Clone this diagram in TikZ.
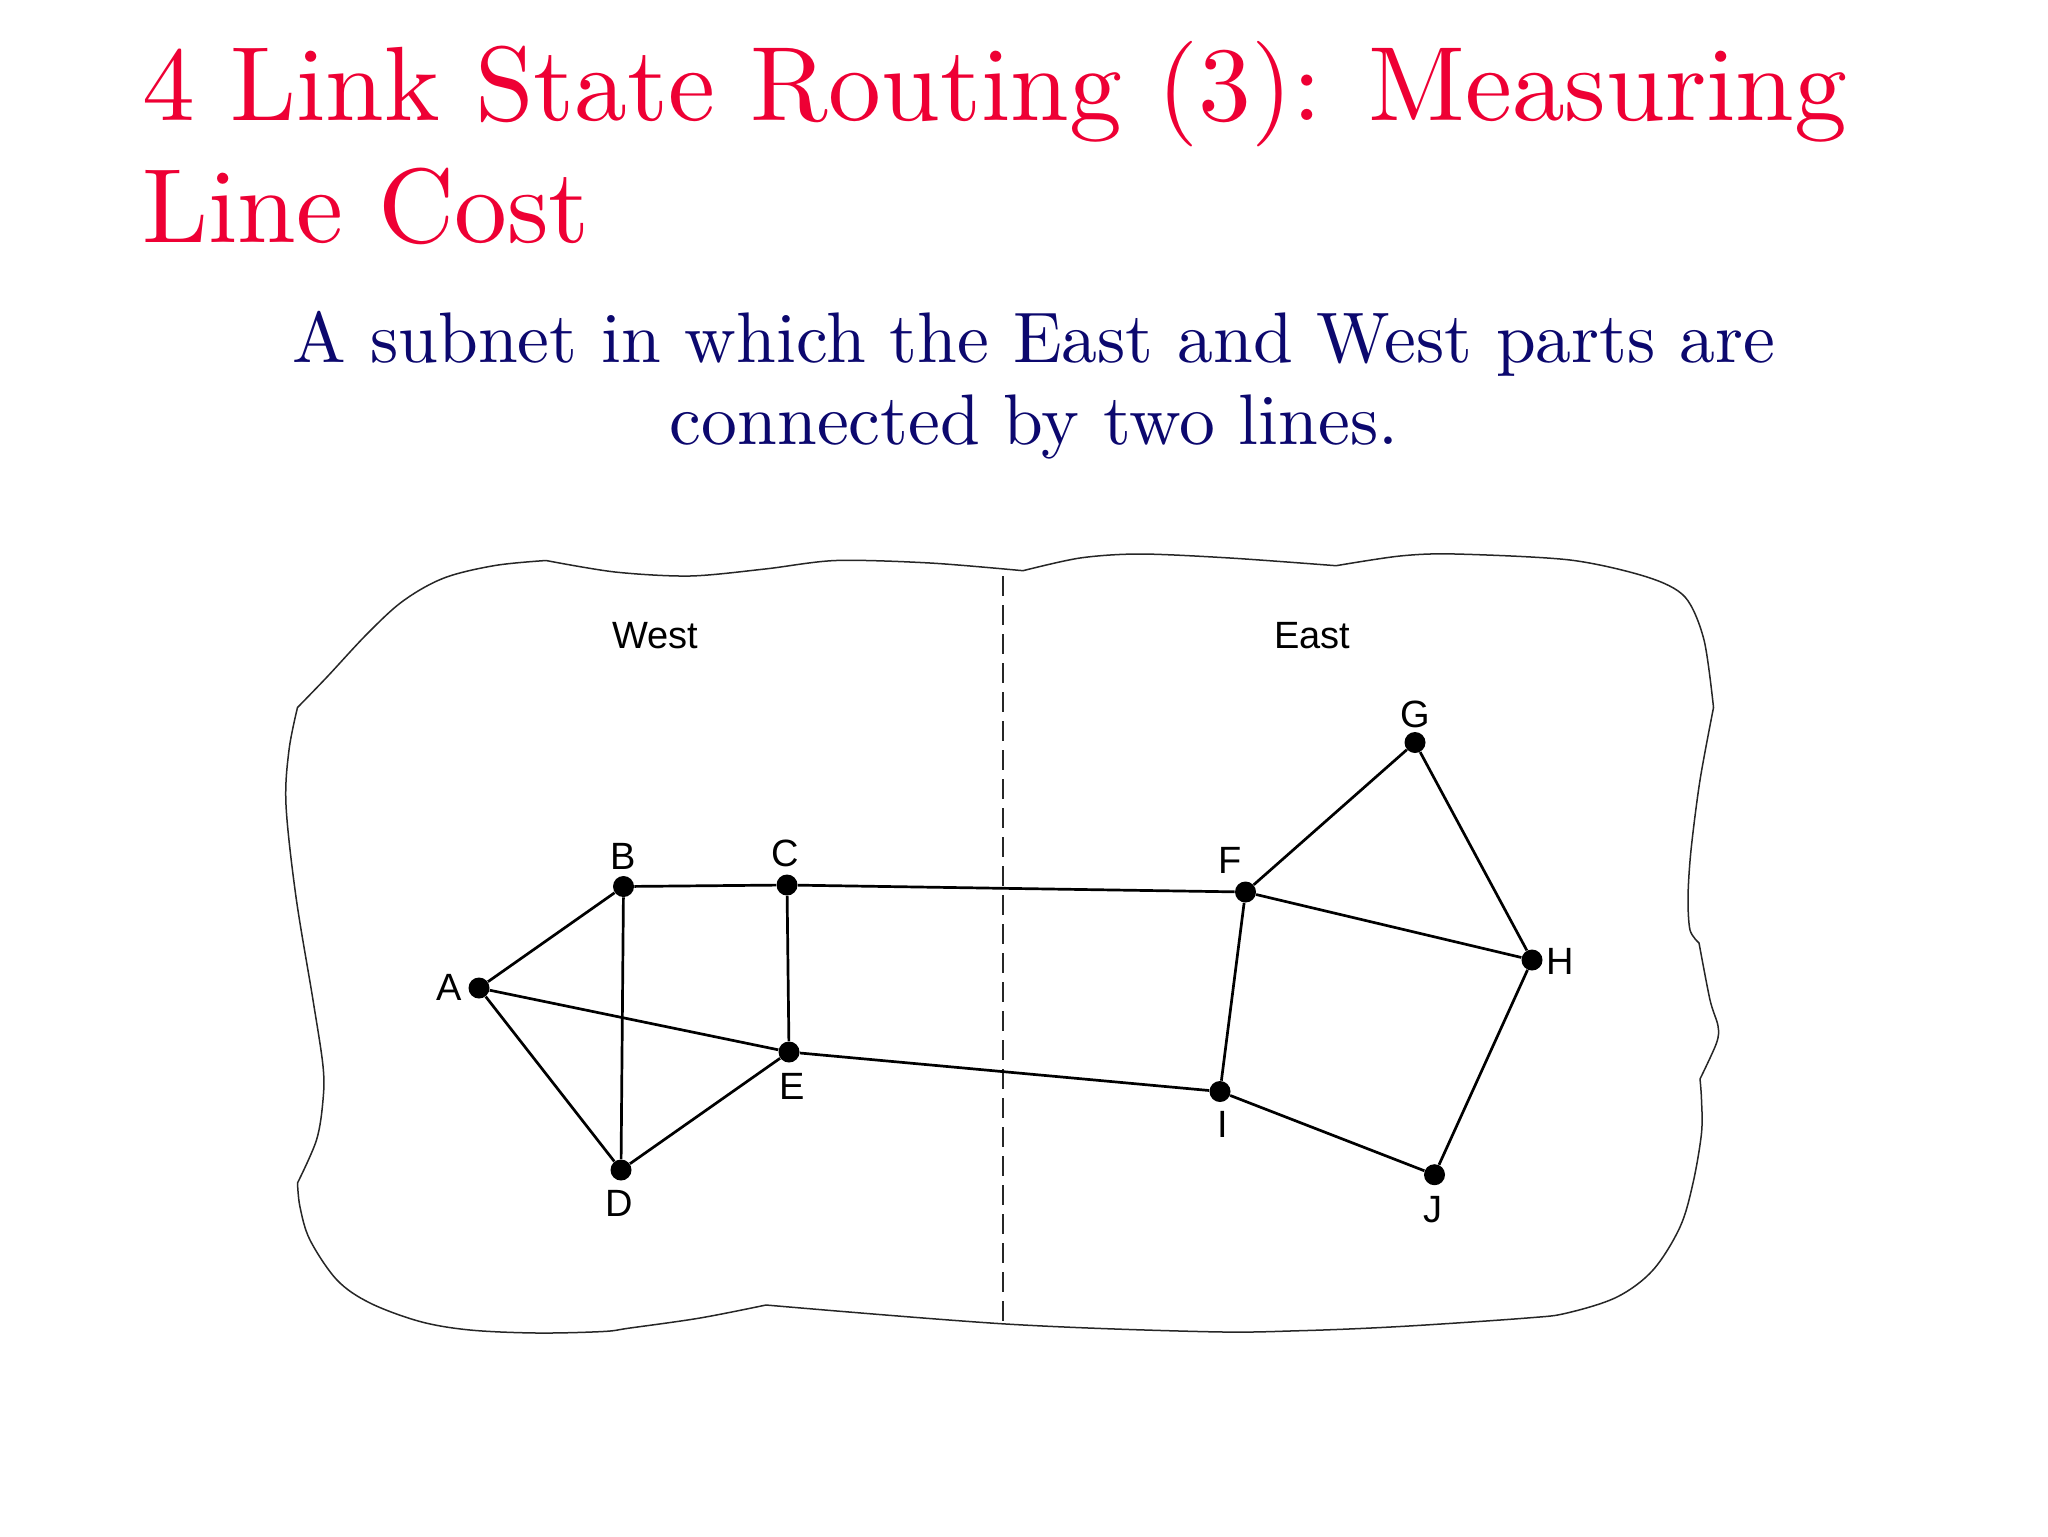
\documentclass[tikz,border=0pt]{standalone}
\usepackage{fontspec}
\newfontfamily\diagfont{Liberation Sans}
\definecolor{titlered}{RGB}{238,0,52}
\definecolor{subnavy}{RGB}{12,8,110}
\tikzset{
  titletext/.style={text=titlered, font=\fontsize{10}{12}\selectfont, scale=5.28, inner sep=0pt, anchor=base west},
  subtext/.style={text=subnavy, font=\fontsize{10}{12}\selectfont, scale=3.58, inner sep=0pt, anchor=base},
  dot/.style={circle, fill=black, draw=none, inner sep=0pt, minimum size=10.5pt},
  lbl/.style={font=\diagfont\fontsize{19}{22}\selectfont, inner sep=0pt},
  edge/.style={line width=1.35pt, black},
  border/.style={line width=0.75pt, black!85, line join=round},
  divider/.style={line width=0.75pt, black!85, dash pattern=on 10pt off 4.5pt}
}
\begin{document}
\begin{tikzpicture}[x=0.5pt,y=-0.5pt]
\useasboundingbox (0,0) rectangle (2048,1536);
\fill[white] (0,0) rectangle (2048,1536);

% titles
\node[titletext] (t1) at (140,120) {4 Link State Routing (3): Measuring};
\node[titletext] (t2) at (140,242.7) {Line Cost};
\node[subtext] (s1) at (1034,362) {A subnet in which the East and West parts are};
\node[subtext] (s2) at (1034,444) {connected by two lines.};

% boundary
\draw[border]
  plot[smooth,tension=0.55] coordinates {(297.5,707.5) (327,677) (367,634) (403,601) (444,578) (495,565.5) (546,560.5)}
  -- plot[smooth,tension=0.5] coordinates {(546,560.5) (615,572) (690,576) (765,569) (836,560.5) (930,563) (1023,570.7)}
  -- plot[smooth,tension=0.5] coordinates {(1023,570.7) (1080,558) (1140,554) (1230,558) (1336,565.7)}
  -- plot[smooth,tension=0.5] coordinates {(1336,565.7) (1400,556) (1455,554) (1570,560) (1647,577) (1685,597) (1704,640) (1713.5,707.5)}
  -- plot[smooth,tension=0.5] coordinates {(1713.5,707.5) (1700,780) (1691,850) (1688,897) (1690,930) (1699,943)}
  -- plot[smooth,tension=0.5] coordinates {(1699,943) (1710,1000) (1718,1026) (1716.5,1043) (1700,1079)}
  -- plot[smooth,tension=0.55] coordinates {(1700,1079) (1701.5,1100) (1701.5,1133) (1693,1183) (1680,1227) (1653,1270) (1617,1297) (1567,1313) (1527,1318) (1400,1326.5) (1300,1330.7) (1207,1331.7) (1006,1324) (766,1305)}
  -- plot[smooth,tension=0.55] coordinates {(766,1305) (700,1318) (630,1328) (603,1331.5) (537,1333) (470,1330) (420,1321.5) (370,1303) (337,1280) (310,1240) (300,1207) (297.5,1183)}
  -- plot[smooth,tension=0.55] coordinates {(297.5,1183) (316.5,1140) (323,1100) (323,1066) (313,1000) (296,897) (286,805) (289,750) (297.5,707.5)}
  -- cycle;

% divider
\coordinate (dtop) at (1003,576);
\coordinate (dbot) at (1003,1323);
\draw[divider] (dtop) -- (dbot);

% region labels
\node[lbl] (west) at (655,636) {West};
\node[lbl] (east) at (1312.5,636) {East};

% nodes
\node[dot] (A) at (479,988) {};
\node[dot] (B) at (623.5,886.5) {};
\node[dot] (C) at (787,885) {};
\node[dot] (D) at (621,1170) {};
\node[dot] (E) at (789,1052) {};
\node[dot] (F) at (1245.5,892) {};
\node[dot] (G) at (1415,742.5) {};
\node[dot] (H) at (1532,960) {};
\node[dot] (I) at (1220,1091.5) {};
\node[dot] (J) at (1434.5,1174.7) {};

% labels
\node[lbl] (lA) at (449.3,987.7) {A};
\node[lbl] (lB) at (623.5,856.3) {B};
\node[lbl] (lC) at (785.7,853.3) {C};
\node[lbl] (lD) at (619.3,1203.3) {D};
\node[lbl] (lE) at (792.4,1086) {E};
\node[lbl] (lF) at (1229.6,860) {F};
\node[lbl] (lG) at (1414.8,714.5) {G};
\node[lbl] (lH) at (1560,961) {H};
\node[lbl] (lI) at (1223,1124.2) {I};
\node[lbl] (lJ) at (1433.3,1210) {J};

% edges
\draw[edge] (A) -- (B);
\draw[edge] (A) -- (D);
\draw[edge] (A) -- (E);
\draw[edge] (B) -- (C);
\draw[edge] (B) -- (D);
\draw[edge] (C) -- (E);
\draw[edge] (D) -- (E);
\draw[edge] (C) -- (F);
\draw[edge] (E) -- (I);
\draw[edge] (F) -- (G);
\draw[edge] (F) -- (H);
\draw[edge] (F) -- (I);
\draw[edge] (G) -- (H);
\draw[edge] (H) -- (J);
\draw[edge] (I) -- (J);
\end{tikzpicture}
\end{document}
